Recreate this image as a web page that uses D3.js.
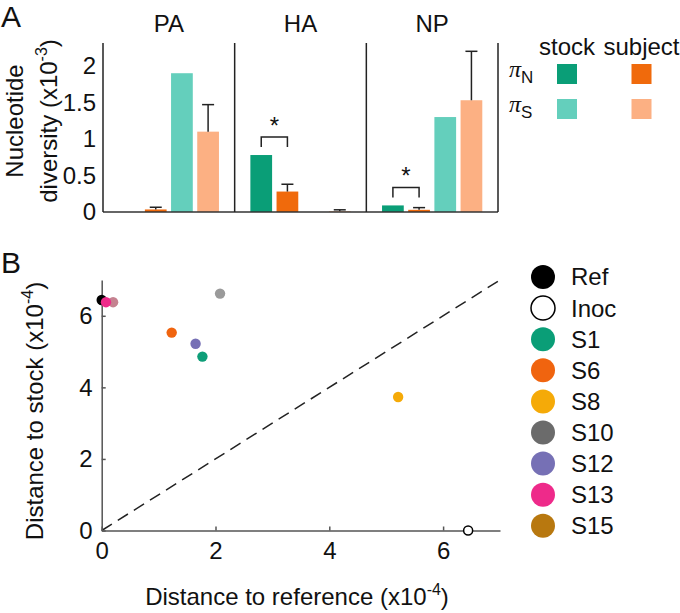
<!DOCTYPE html>
<html>
<head>
<meta charset="utf-8">
<script src="https://cdn.jsdelivr.net/npm/d3@7"></script>
<style>
  html, body { margin: 0; padding: 0; background: #fff; }
  svg { display: block; font-family: "Liberation Sans", Arial, Helvetica, sans-serif; }
</style>
</head>
<body>
<svg id="chart" width="680" height="613"></svg>
<script>
// ---------- Panel A data ----------
const genes = ["PA", "HA", "NP"];
const barKeys = ["piNStock", "piNSubject", "piSStock", "piSSubject"];
const piNStock = [0, 0.78, 0.09];
const piNSubject = [0.035, 0.28, 0.03];
const piSStock = [1.90, 0, 1.30];
const piSSubject = [1.10, 0.01, 1.53];
const piNSubjectErrTop = [0.065, 0.38, 0.06];
const piSSubjectErrTop = [1.47, 0.03, 2.20];
const sigGenes = ["HA", "NP"];
const yTicksA = [0, 0.5, 1, 1.5, 2];
const barColors = ["#0a9e77", "#f06a0c", "#64cfbc", "#fcb083"];

// ---------- Panel B data ----------
const sampleNames = ["Ref", "Inoc", "S1", "S6", "S8", "S10", "S12", "S13", "S15"];
const legendColors = ["#000000", "#ffffff", "#0a9e77", "#f0640f", "#f5aa08", "#6b6b6b", "#7670b5", "#ee2a8a", "#b8780f"];
const distToReference = [0, 6.44, 1.77, 1.23, 5.21, 2.08, 1.65, 0.075, 0.20];
const distToStock = [6.44, 0, 4.86, 5.53, 3.73, 6.62, 5.22, 6.38, 6.38];
const scatterColors = ["#000000", "#ffffff", "#0e9e78", "#f0640f", "#f5aa08", "#9a9a9a", "#7670b5", "#ee2a8a", "#c58290"];
const drawOrder = ["S10", "S6", "S12", "S1", "S8", "Inoc", "S15", "Ref", "S13"];
const ticksB = [0, 2, 4, 6];

const svg = d3.select("#chart");
const FS = 24;
const textColor = "#111";

// ================= Panel A =================
const A = { left: 103, right: 498, top: 44, bottom: 212 };
const xGene = d3.scaleBand().domain(genes).range([A.left, A.right]);
const xBar = d3.scaleBand().domain(barKeys).range([0, xGene.bandwidth()])
  .paddingInner(0.17).paddingOuter(0.6);
const yA = d3.scaleLinear().domain([0, 2.3]).range([A.bottom, A.top]);
const color = d3.scaleOrdinal().domain(barKeys).range(barColors);

const rows = genes.map((g, i) => ({
  gene: g,
  values: {
    piNStock: piNStock[i], piNSubject: piNSubject[i],
    piSStock: piSStock[i], piSSubject: piSSubject[i]
  },
  errs: { piNSubject: piNSubjectErrTop[i], piSSubject: piSSubjectErrTop[i] }
}));

const gA = svg.append("g");

// bars
const geneG = gA.selectAll("g.gene").data(rows).join("g")
  .attr("class", "gene")
  .attr("transform", d => `translate(${xGene(d.gene)},0)`);

geneG.selectAll("rect").data(d => barKeys.map(k => ({ key: k, value: d.values[k] })))
  .join("rect")
  .attr("x", d => xBar(d.key))
  .attr("width", xBar.bandwidth())
  .attr("y", d => yA(d.value))
  .attr("height", d => yA(0) - yA(d.value))
  .attr("fill", d => color(d.key));

// error bars
geneG.selectAll("g.err").data(d => Object.keys(d.errs).map(k => ({ key: k, value: d.values[k], top: d.errs[k] })))
  .join("g").attr("class", "err")
  .each(function (d) {
    const g = d3.select(this);
    const cx = xBar(d.key) + xBar.bandwidth() / 2;
    g.append("line").attr("x1", cx).attr("x2", cx)
      .attr("y1", yA(d.value)).attr("y2", yA(d.top))
      .attr("stroke", "#222").attr("stroke-width", 1.5);
    g.append("line").attr("x1", cx - 6).attr("x2", cx + 6)
      .attr("y1", yA(d.top)).attr("y2", yA(d.top))
      .attr("stroke", "#222").attr("stroke-width", 1.5);
  });

// significance brackets
rows.filter(r => sigGenes.includes(r.gene)).forEach(r => {
  const g = gA.append("g").attr("transform", `translate(${xGene(r.gene)},0)`);
  const x1 = xBar("piNStock") + xBar.bandwidth() / 2;
  const x2 = xBar("piNSubject") + xBar.bandwidth() / 2;
  const maxV = Math.max(r.values.piNStock, r.errs.piNSubject);
  const yLeg = yA(maxV) - 8;
  const yTop = yLeg - 10;
  g.append("path")
    .attr("d", `M${x1},${yLeg}V${yTop}H${x2}V${yLeg}`)
    .attr("fill", "none").attr("stroke", "#222").attr("stroke-width", 1.5);
  g.append("text").attr("x", (x1 + x2) / 2).attr("y", yTop - 3)
    .attr("text-anchor", "middle").attr("font-size", 24).attr("fill", textColor)
    .text("*");
});

// axes / frame lines
gA.append("line").attr("x1", A.left).attr("x2", A.right).attr("y1", A.bottom).attr("y2", A.bottom)
  .attr("stroke", "#333").attr("stroke-width", 1.5);
[A.left, ...genes.slice(1).map(g => xGene(g)), A.right].forEach(x => {
  gA.append("line").attr("x1", x).attr("x2", x).attr("y1", A.top - 1).attr("y2", A.bottom)
    .attr("stroke", "#222").attr("stroke-width", 1.5);
});

const axA = gA.append("g").attr("transform", `translate(${A.left},0)`)
  .call(d3.axisLeft(yA).tickValues(yTicksA).tickFormat(d3.format("")).tickSize(0).tickPadding(7));
axA.select(".domain").remove();
axA.selectAll("text").attr("font-size", FS).attr("fill", textColor).attr("font-family", null);

// gene titles
gA.selectAll("text.gtitle").data(genes).join("text").attr("class", "gtitle")
  .attr("x", d => xGene(d) + xGene.bandwidth() / 2).attr("y", 32)
  .attr("text-anchor", "middle").attr("font-size", FS).attr("fill", textColor)
  .text(d => d);

// y title A
const yTitleA = gA.append("text").attr("transform", "translate(23,121) rotate(-90)")
  .attr("text-anchor", "middle").attr("font-size", FS).attr("fill", textColor);
yTitleA.text("Nucleotide");
const yTitleA2 = gA.append("text").attr("transform", "translate(56.5,121) rotate(-90)")
  .attr("text-anchor", "middle").attr("font-size", FS).attr("fill", textColor);
yTitleA2.append("tspan").text("diversity (x10");
yTitleA2.append("tspan").attr("font-size", 16).attr("dy", -10).text("-3");
yTitleA2.append("tspan").attr("dy", 10).text(")");

// panel A legend
const legCols = [{ label: "stock", cx: 567 }, { label: "subject", cx: 641.5 }];
const legRows = [{ sub: "N", cy: 74 }, { sub: "S", cy: 109 }];
legCols.forEach(c => {
  gA.append("text").attr("x", c.cx).attr("y", 55).attr("text-anchor", "middle")
    .attr("font-size", FS).attr("fill", textColor).text(c.label);
});
legRows.forEach((r, ri) => {
  const t = gA.append("text").attr("x", 509).attr("y", r.cy + 3).attr("fill", textColor);
  t.append("tspan").attr("font-family", "Liberation Serif, serif").attr("font-style", "italic")
    .attr("font-size", 24).text("π");
  t.append("tspan").attr("font-size", 17).attr("dy", 6).text(r.sub);
  legCols.forEach((c, ci) => {
    gA.append("rect").attr("x", c.cx - 10).attr("y", r.cy - 10).attr("width", 20).attr("height", 20)
      .attr("fill", color(barKeys[ri * 2 + ci]));
  });
});

// panel label
svg.append("text").attr("x", 1).attr("y", 27).attr("font-size", 30).attr("fill", textColor).text("A");

// ================= Panel B =================
const B = { left: 101.7, right: 500, top: 280, bottom: 530.5 };
const xB = d3.scaleLinear().domain([0, 7]).range([B.left, B.right]);
const yB = d3.scaleLinear().domain([0, 7]).range([B.bottom, B.top]);
const gB = svg.append("g");

// diagonal
gB.append("line").attr("x1", xB(0)).attr("y1", yB(0)).attr("x2", xB(7)).attr("y2", yB(7))
  .attr("stroke", "#222").attr("stroke-width", 1.5).attr("stroke-dasharray", "12,7");

const axBx = gB.append("g").attr("transform", `translate(0,${B.bottom})`)
  .call(d3.axisBottom(xB).tickValues(ticksB).tickFormat(d3.format("d")).tickSizeInner(-4).tickSizeOuter(0).tickPadding(11));
const axBy = gB.append("g").attr("transform", `translate(${B.left},0)`)
  .call(d3.axisLeft(yB).tickValues(ticksB).tickFormat(d3.format("d")).tickSizeInner(-4).tickSizeOuter(0).tickPadding(9));
[axBx, axBy].forEach(ax => {
  ax.select(".domain").attr("stroke", "#555").attr("stroke-width", 1.5);
  ax.selectAll(".tick line").attr("stroke", "#555").attr("stroke-width", 1.5);
  ax.selectAll("text").attr("font-size", FS).attr("fill", textColor).attr("font-family", null);
});

// points
const pts = sampleNames.map((n, i) => ({ name: n, x: distToReference[i], y: distToStock[i], c: scatterColors[i] }));
const ordered = drawOrder.map(n => pts.find(p => p.name === n));
gB.selectAll("circle.pt").data(ordered).join("circle").attr("class", "pt")
  .attr("cx", d => xB(d.x)).attr("cy", d => yB(d.y))
  .attr("r", d => d.name === "Inoc" ? 4.5 : 5.2)
  .attr("fill", d => d.c)
  .attr("stroke", d => d.name === "Inoc" ? "#000" : "none")
  .attr("stroke-width", 1.5);

// axis titles
const xt = gB.append("text").attr("x", 297).attr("y", 605).attr("text-anchor", "middle")
  .attr("font-size", FS).attr("fill", textColor);
xt.append("tspan").text("Distance to reference (x10");
xt.append("tspan").attr("font-size", 16).attr("dy", -10).text("-4");
xt.append("tspan").attr("dy", 10).text(")");

const yt = gB.append("text").attr("transform", "translate(43,411) rotate(-90)").attr("text-anchor", "middle")
  .attr("font-size", FS).attr("fill", textColor);
yt.append("tspan").text("Distance to stock (x10");
yt.append("tspan").attr("font-size", 16).attr("dy", -10).text("-4");
yt.append("tspan").attr("dy", 10).text(")");

// legend B
const legB = gB.selectAll("g.lb").data(sampleNames).join("g").attr("class", "lb")
  .attr("transform", (d, i) => `translate(543,${277 + i * 31.1})`);
legB.append("circle").attr("r", 12)
  .attr("fill", (d, i) => legendColors[i])
  .attr("stroke", d => d === "Inoc" ? "#000" : "none").attr("stroke-width", 1.5);
legB.append("text").attr("x", 28).attr("dy", "0.35em").attr("font-size", FS).attr("fill", textColor)
  .text(d => d);

svg.append("text").attr("x", 1).attr("y", 273).attr("font-size", 30).attr("fill", textColor).text("B");
</script>
</body>
</html>
